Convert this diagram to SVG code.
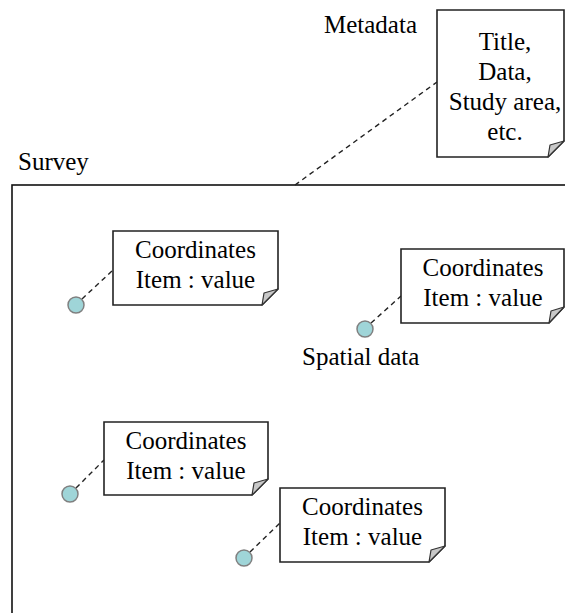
<svg xmlns="http://www.w3.org/2000/svg" width="565" height="613" viewBox="0 0 565 613">
  <rect width="565" height="613" fill="#fff"/>

  <!-- Survey frame -->
  <g id="survey">
    <rect x="12" y="185" width="570" height="450" fill="none" stroke="#111" stroke-width="1.6"/>
    <text x="18" y="170" font-size="25" font-family="Tinos, 'Times New Roman', serif">Survey</text>
  </g>

  <!-- Leader lines -->
  <g id="connectors" stroke="#222" stroke-width="1.4" stroke-dasharray="5 4" fill="none">
    <line x1="295" y1="185" x2="437" y2="82"/>
    <line x1="82" y1="299" x2="113" y2="270"/>
    <line x1="371" y1="323" x2="401" y2="296"/>
    <line x1="76" y1="488" x2="104" y2="460"/>
    <line x1="250" y1="552" x2="280" y2="523"/>
  </g>

  <!-- Metadata note -->
  <g id="metadata">
    <text x="324" y="33" font-size="25" font-family="Tinos, 'Times New Roman', serif">Metadata</text>
    <path d="M437,10 H564 V141 L548,157 H437 Z" fill="#fff" stroke="#222" stroke-width="1.6"/>
    <path d="M548,157 L564,141 L550,145 Z" fill="#c8c8c8" stroke="#333" stroke-width="1.2" stroke-linejoin="round"/>
    <text x="505" y="50" font-size="25" font-family="Tinos, 'Times New Roman', serif" text-anchor="middle">Title,</text>
    <text x="505" y="80" font-size="25" font-family="Tinos, 'Times New Roman', serif" text-anchor="middle">Data,</text>
    <text x="505" y="110" font-size="25" font-family="Tinos, 'Times New Roman', serif" text-anchor="middle">Study area,</text>
    <text x="505" y="140" font-size="25" font-family="Tinos, 'Times New Roman', serif" text-anchor="middle">etc.</text>
  </g>

  <!-- Spatial data points -->
  <g id="point1">
    <circle cx="76" cy="305" r="8" fill="#9fd5d8" stroke="#808080" stroke-width="1.5"/>
    <path d="M113,231 H278 V289 L262,305 H113 Z" fill="#fff" stroke="#222" stroke-width="1.6"/>
    <path d="M262,305 L278,289 L264,293 Z" fill="#c8c8c8" stroke="#333" stroke-width="1.2" stroke-linejoin="round"/>
    <text x="195.5" y="258" font-size="25" font-family="Tinos, 'Times New Roman', serif" text-anchor="middle">Coordinates</text>
    <text x="195.5" y="288" font-size="25" font-family="Tinos, 'Times New Roman', serif" text-anchor="middle">Item : value</text>
  </g>

  <g id="point2">
    <circle cx="365" cy="329" r="8" fill="#9fd5d8" stroke="#808080" stroke-width="1.5"/>
    <path d="M401,249 H564 V307 L549,323 H401 Z" fill="#fff" stroke="#222" stroke-width="1.6"/>
    <path d="M549,323 L564,307 L551,311 Z" fill="#c8c8c8" stroke="#333" stroke-width="1.2" stroke-linejoin="round"/>
    <text x="483" y="276" font-size="25" font-family="Tinos, 'Times New Roman', serif" text-anchor="middle">Coordinates</text>
    <text x="483" y="306" font-size="25" font-family="Tinos, 'Times New Roman', serif" text-anchor="middle">Item : value</text>
    <text x="302" y="365" font-size="25" font-family="Tinos, 'Times New Roman', serif">Spatial data</text>
  </g>

  <g id="point3">
    <circle cx="70" cy="494" r="8" fill="#9fd5d8" stroke="#808080" stroke-width="1.5"/>
    <path d="M104,422 H268 V479 L252,495 H104 Z" fill="#fff" stroke="#222" stroke-width="1.6"/>
    <path d="M252,495 L268,479 L254,483 Z" fill="#c8c8c8" stroke="#333" stroke-width="1.2" stroke-linejoin="round"/>
    <text x="186" y="449" font-size="25" font-family="Tinos, 'Times New Roman', serif" text-anchor="middle">Coordinates</text>
    <text x="186" y="479" font-size="25" font-family="Tinos, 'Times New Roman', serif" text-anchor="middle">Item : value</text>
  </g>

  <g id="point4">
    <circle cx="244" cy="558" r="8" fill="#9fd5d8" stroke="#808080" stroke-width="1.5"/>
    <path d="M280,488 H445 V546 L429,562 H280 Z" fill="#fff" stroke="#222" stroke-width="1.6"/>
    <path d="M429,562 L445,546 L431,550 Z" fill="#c8c8c8" stroke="#333" stroke-width="1.2" stroke-linejoin="round"/>
    <text x="362.5" y="515" font-size="25" font-family="Tinos, 'Times New Roman', serif" text-anchor="middle">Coordinates</text>
    <text x="362.5" y="545" font-size="25" font-family="Tinos, 'Times New Roman', serif" text-anchor="middle">Item : value</text>
  </g>
</svg>
